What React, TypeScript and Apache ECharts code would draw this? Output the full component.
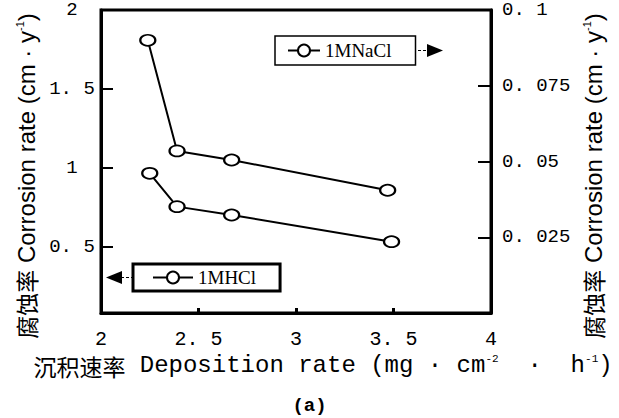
import React, { useEffect, useRef } from "react";
import * as echarts from "echarts";

// Deposition rate (mg·cm-2·h-1) and corrosion rate (cm·y-1)
const depositionNaCl = [2.24, 2.39, 2.67, 3.47];
const corrosionNaCl = [0.09, 0.0535, 0.0505, 0.0405];
const depositionHCl = [2.25, 2.39, 2.67, 3.49];
const corrosionHCl = [0.965, 0.754, 0.701, 0.532];
const seriesNames = ["1MNaCl", "1MHCl"];
const leftTickValues = [0.5, 1, 1.5, 2];
const xTicks = { min: 2, max: 4, interval: 0.5 };
const rightTicks = { min: 0, max: 0.1, interval: 0.025 };

const fmt = (v: number) => {
  if (v === 0) return "";
  return String(+v.toFixed(3)).replace(".", ". ");
};

const MONO = "'Liberation Mono', 'DejaVu Sans Mono', monospace";
const SANS = "'Liberation Sans', Arial, sans-serif";
const CJK = "'Noto Sans CJK SC', sans-serif";

export default function App() {
  const ref = useRef<HTMLDivElement>(null);
  useEffect(() => {
    if (!ref.current) return;
    const chart = echarts.init(ref.current, null, { renderer: "svg" });
    const yNameStyle = {
      fontFamily: SANS,
      fontSize: 24,
      color: "#000",
      padding: [0, 29, 0, 0],
      rich: {
        cn: { fontFamily: CJK, fontSize: 23, color: "#000" },
        sup: { fontFamily: SANS, fontSize: 11, color: "#000", verticalAlign: "top" },
      },
    };
    const symbolStyle = {
      symbol: "circle",
      symbolSize: [15, 11],
      itemStyle: { color: "#fff", borderColor: "#000", borderWidth: 2 },
      lineStyle: { color: "#000", width: 2 },
    };
    const legendBase = {
      orient: "horizontal",
      borderColor: "#000",
      backgroundColor: "#fff",
      itemHeight: 15,
      itemGap: 0,
      selectedMode: false,
      textStyle: { fontFamily: "'Liberation Serif', serif", fontSize: 19, color: "#000" },
    };
    chart.setOption({
      animation: false,
      backgroundColor: "#fff",
      grid: {
        left: 101,
        right: 128,
        top: 10,
        bottom: 105,
        show: true,
        borderColor: "#000",
        borderWidth: 3,
        containLabel: false,
      },
      title: {
        text: "(a)",
        left: "center",
        top: 396,
        padding: 0,
        textStyle: { fontFamily: MONO, fontSize: 19, fontWeight: "bold", color: "#000" },
      },
      legend: [
        {
          ...legendBase,
          data: [seriesNames[0]],
          left: 275,
          top: 36,
          itemWidth: 32,
          borderWidth: 1.5,
          padding: [5, 24, 5, 12],
        },
        {
          ...legendBase,
          data: [seriesNames[1]],
          left: 133,
          top: 264,
          itemWidth: 40,
          borderWidth: 3,
          padding: [4, 24, 4, 19],
        },
      ],
      graphic: [
        {
          type: "line",
          shape: { x1: 413, y1: 50.5, x2: 427, y2: 50.5 },
          style: { stroke: "#000", lineWidth: 1, lineDash: [3, 2] },
        },
        {
          type: "polygon",
          shape: { points: [[427, 44], [427, 57], [443, 50.5]] },
          style: { fill: "#000" },
        },
        {
          type: "line",
          shape: { x1: 121, y1: 277.5, x2: 134, y2: 277.5 },
          style: { stroke: "#000", lineWidth: 1, lineDash: [3, 2] },
        },
        {
          type: "polygon",
          shape: { points: [[106, 277.5], [122, 271], [122, 284]] },
          style: { fill: "#000" },
        },
      ],
      xAxis: {
        type: "value",
        min: xTicks.min,
        max: xTicks.max,
        interval: xTicks.interval,
        name: "{cn|沉积速率} Deposition rate (mg · cm{sup|-2}  ·  h{sup|-1})",
        nameLocation: "middle",
        nameGap: 38,
        nameTextStyle: {
          fontFamily: MONO,
          fontSize: 24,
          color: "#000",
          padding: [0, 0, 0, 54],
          rich: {
            cn: { fontFamily: CJK, fontSize: 23, color: "#000" },
            sup: { fontFamily: MONO, fontSize: 11, color: "#000", verticalAlign: "top" },
          },
        },
        axisLine: { show: true, lineStyle: { color: "#000", width: 3 } },
        axisTick: { show: true, inside: true, length: 5, lineStyle: { color: "#000", width: 3 } },
        axisLabel: { fontFamily: MONO, fontSize: 20, color: "#000", margin: 16, formatter: (v: number) => fmt(v) },
        splitLine: { show: false },
      },
      yAxis: [
        {
          type: "value",
          position: "left",
          min: 0.08,
          max: 2,
          name: "{cn|腐蚀率} Corrosion rate (cm · y{sup|-1})",
          nameLocation: "middle",
          nameRotate: 90,
          nameGap: 57,
          nameTextStyle: yNameStyle,
          axisLine: { show: true, lineStyle: { color: "#000", width: 3 } },
          axisTick: {
            show: true,
            inside: true,
            length: 12,
            customValues: leftTickValues,
            lineStyle: { color: "#000", width: 2 },
          },
          axisLabel: {
            fontFamily: MONO,
            fontSize: 19,
            color: "#000",
            align: "center",
            margin: 29,
            customValues: leftTickValues,
            formatter: (v: number) => fmt(v),
          },
          splitLine: { show: false },
        },
        {
          type: "value",
          position: "right",
          min: rightTicks.min,
          max: rightTicks.max,
          interval: rightTicks.interval,
          name: "{cn|腐蚀率} Corrosion rate (cm · y{sup|-1})",
          nameLocation: "middle",
          nameRotate: 90,
          nameGap: 78,
          nameTextStyle: yNameStyle,
          axisLine: { show: true, lineStyle: { color: "#000", width: 3 } },
          axisTick: { show: true, inside: true, length: 13, lineStyle: { color: "#000", width: 2 } },
          axisLabel: {
            fontFamily: MONO,
            fontSize: 19,
            color: "#000",
            align: "left",
            margin: 11,
            formatter: (v: number) => fmt(v),
          },
          splitLine: { show: false },
        },
      ],
      series: [
        {
          name: seriesNames[0],
          type: "line",
          yAxisIndex: 1,
          data: depositionNaCl.map((x, i) => [x, corrosionNaCl[i]]),
          ...symbolStyle,
        },
        {
          name: seriesNames[1],
          type: "line",
          yAxisIndex: 0,
          data: depositionHCl.map((x, i) => [x, corrosionHCl[i]]),
          ...symbolStyle,
        },
      ],
    });
    return () => chart.dispose();
  }, []);
  return (
    <div
      ref={ref}
      style={{ position: "fixed", left: 0, top: 0, width: 619, height: 418, background: "#fff" }}
    />
  );
}
